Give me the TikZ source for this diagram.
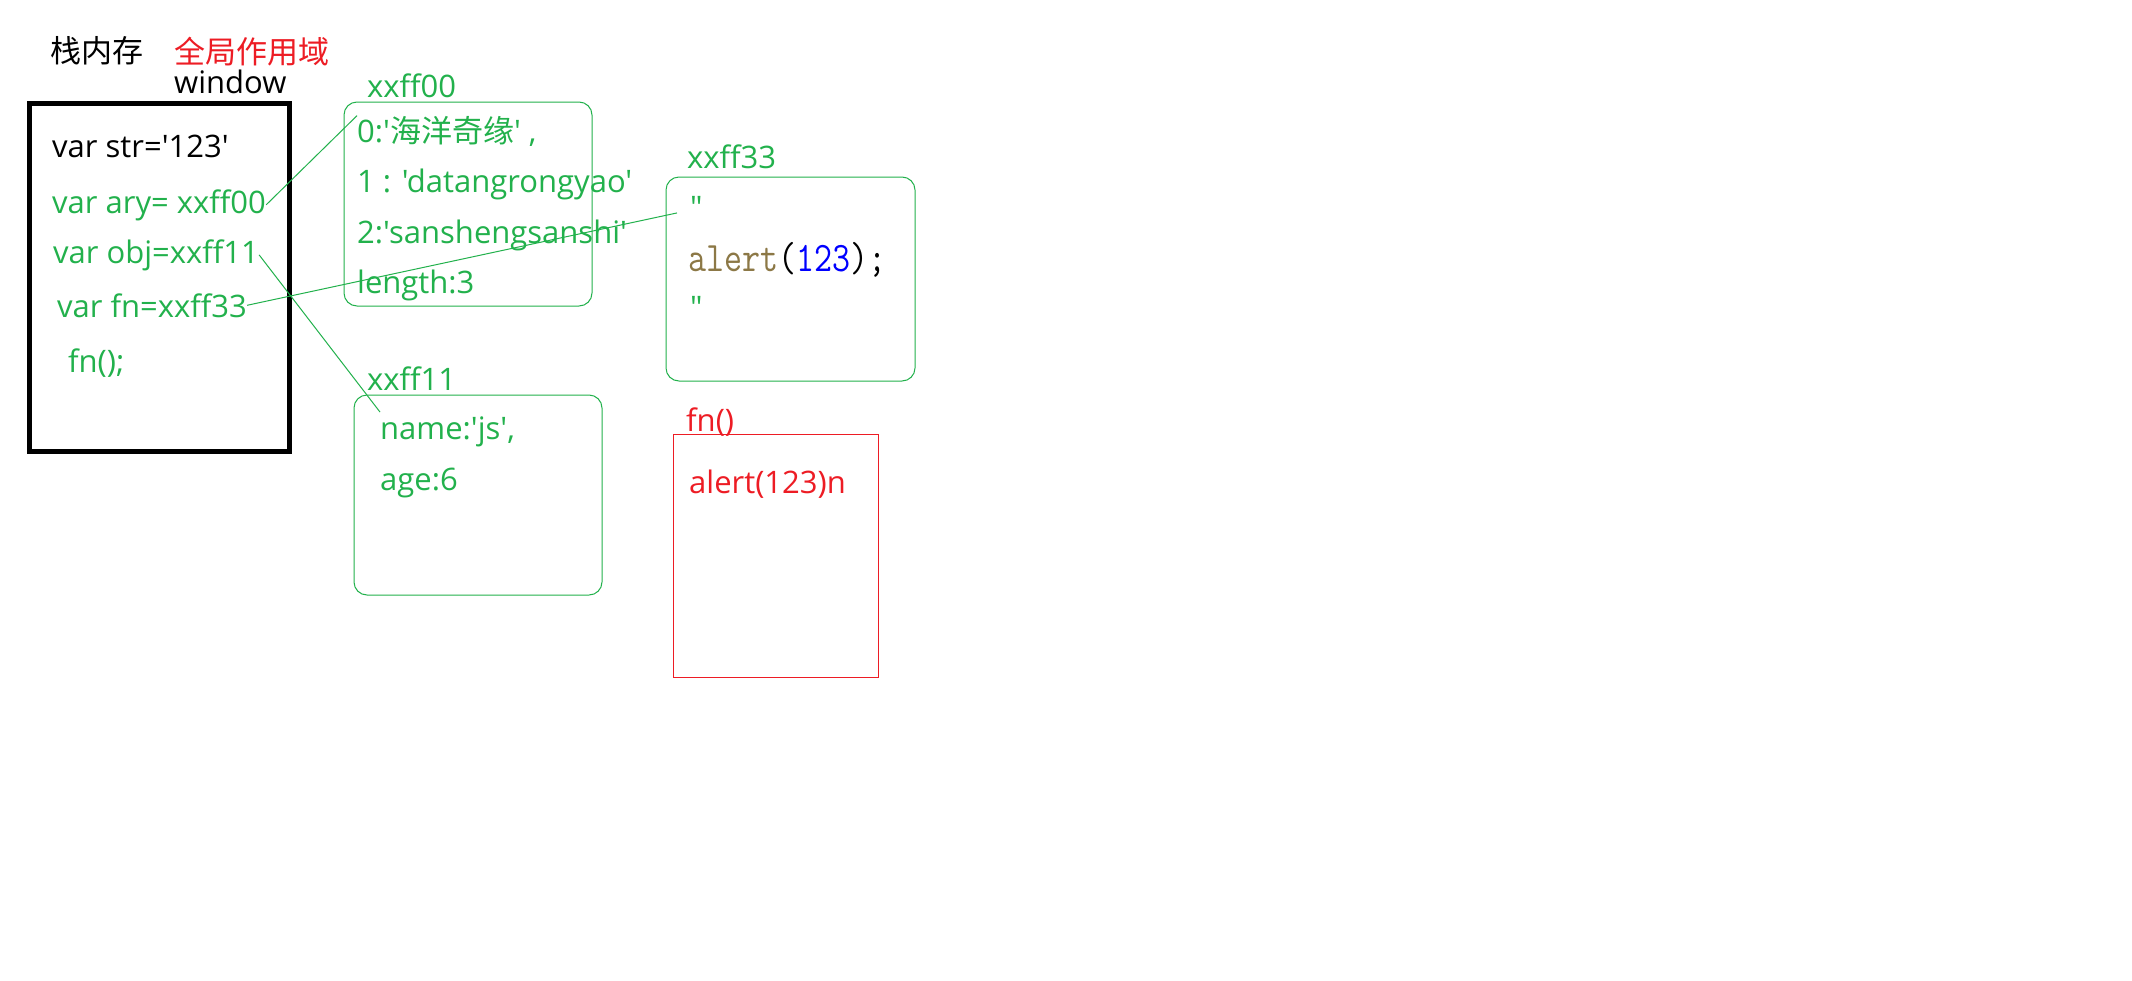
\documentclass[tikz,border=0pt]{standalone}
\usepackage{fontspec}
\setmainfont{Open Sans}[Ligatures=TeXOff]
\newfontfamily\cjk{Noto Sans CJK SC}[Ligatures=TeXOff]
\usepackage{tikz}
\usetikzlibrary{positioning, calc}
\definecolor{codegreen}{RGB}{34,177,76}
\definecolor{scopered}{RGB}{237,28,36}
\definecolor{kwbrown}{RGB}{140,120,70}
\tikzstyle{heapbox} = [draw=codegreen, rounded corners=13pt, line width=1pt, inner sep=0pt]
\tikzstyle{txt} = [anchor=base west, inner sep=0pt, font=\fontsize{31}{36}\selectfont]
\tikzstyle{gtxt} = [txt, text=codegreen]
\tikzstyle{link} = [draw=codegreen, line width=1pt]

\begin{document}
\begin{tikzpicture}[x=1pt,y=-1pt]
            \useasboundingbox[fill=white] (0,0) rectangle (2132,980);
            % titles
            \node[txt] (stacktitle) at (50,62) {\cjk 栈内存};
            \node[txt, text=scopered] (scopetitle) at (174,63) {\cjk 全局作用域};
            \node[txt] (window) at (174,93) {window};
            % stack memory
            \node[draw, line width=4.5pt, minimum width=260pt, minimum height=348pt, inner sep=0pt] (stack) at (159.5,277.5) {};
            \node[txt] (str) at (52,157) {var str='123'};
            \node[gtxt] (ary) at (52,213) {var ary= xxff00};
            \node[gtxt] (obj) at (53,263) {var obj=xxff11};
            \node[gtxt] (fn) at (57,317) {var fn=xxff33};
            \node[gtxt] (call) at (68,372) {fn();};
            % heap: array
            \node[heapbox, minimum width=248pt, minimum height=204pt] (arybox) at (468,204) {};
            \node[gtxt] (arylbl) at (367,97) {xxff00};
            \node[gtxt] (row0) at (357,142) {0:'{\cjk 海洋奇缘}' ,};
            \node[gtxt] (row1) at (357,192) {1 : 'datangrongyao'};
            \node[gtxt] (row2) at (357,243) {2:'sanshengsanshi'};
            \node[gtxt] (row3) at (357,293) {length:3};
            % heap: object
            \node[heapbox, minimum width=248pt, minimum height=200pt] (objbox) at (478,495) {};
            \node[gtxt] (objlbl) at (367,390) {xxff11};
            \node[gtxt] (name) at (380,439) {name:'js',};
            \node[gtxt] (age) at (380,490) {age:6};
            % heap: function
            \node[heapbox, minimum width=249pt, minimum height=204pt] (fnbox) at (790.5,279) {};
            \node[gtxt] (fnlbl) at (687,168) {xxff33};
            \node[gtxt] (quote1) at (690,218) {"};
            \node[txt, font=\fontsize{35}{40}\ttfamily] (body) at (688,271) {\scalebox{1}[1.2]{\textcolor{kwbrown}{alert}(\textcolor{blue}{123});}};
            \node[gtxt] (quote2) at (690,318) {"};
            % function scope
            \node[draw=scopered, line width=1pt, minimum width=205pt, minimum height=243pt, inner sep=0pt] (scope) at (775.5,555.5) {};
            \node[txt, text=scopered] (scopelbl) at (686,431) {fn()};
            \node[txt, text=scopered] (run) at (689,493) {alert(123)n};
            % references
            \draw[link] (ary.east) -- (row0.north west);
            \draw[link] (obj.east) -- ([yshift=4pt]name.north west);
            \draw[link] (fn.east) -- ([xshift=-13pt,yshift=-6pt]quote1.west);
        \end{tikzpicture}
\end{document}
